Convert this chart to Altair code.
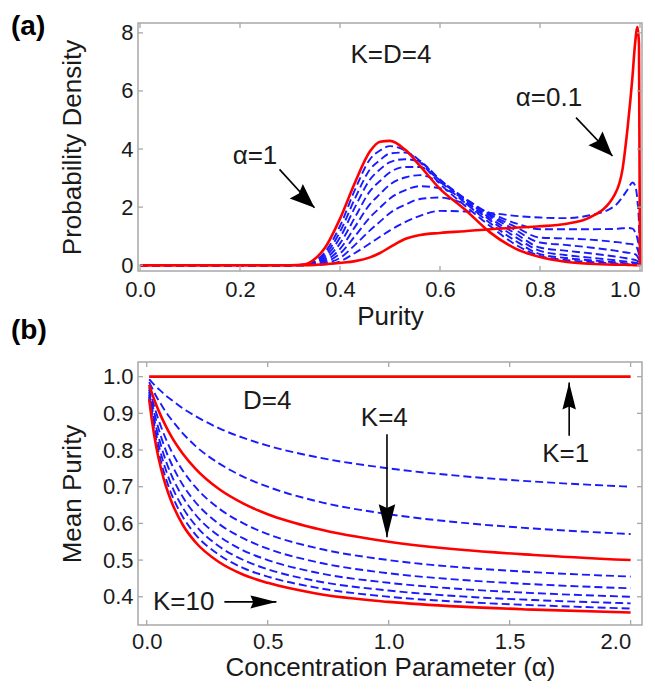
import altair as alt
import pandas as pd

# ---------------- panel (a): probability density of purity, K = D = 4 ----------------
PURITY = [0.0, 0.30, 0.33, 0.35, 0.37, 0.40, 0.43, 0.46, 0.48, 0.50, 0.53, 0.56,
          0.60, 0.65, 0.70, 0.75, 0.80, 0.85, 0.90, 0.95, 0.965, 0.975, 0.985,
          0.99, 0.995, 0.998, 1.0]
DENS_A10 = [0, 0, 0.03, 0.22, 0.6, 1.6, 2.85, 3.92, 4.25, 4.28, 3.98, 3.42,
            2.63, 1.92, 1.13, 0.58, 0.28, 0.12, 0.05, 0.02, 0.015, 0.01, 0.005,
            0.0, 0.0, 0.0, 0.0]
DENS_A09 = [0, 0, 0.02, 0.15, 0.45, 1.35, 2.6, 3.65, 3.95, 4.1, 3.95, 3.55,
            2.8, 2.05, 1.35, 0.72, 0.32, 0.18, 0.11, 0.06, 0.04, 0.03, 0.02,
            0.02, 0.01, 0.01, 0]
DENS_A08 = [0, 0, 0.02, 0.12, 0.36, 1.15, 2.3, 3.3, 3.62, 3.85, 3.88, 3.6,
            2.9, 2.15, 1.45, 0.85, 0.38, 0.25, 0.17, 0.1, 0.08, 0.06, 0.05,
            0.04, 0.03, 0.02, 0]
DENS_A07 = [0, 0, 0.01, 0.09, 0.28, 0.95, 2.0, 2.95, 3.3, 3.55, 3.65, 3.55,
            2.95, 2.22, 1.55, 0.98, 0.49, 0.35, 0.26, 0.17, 0.14, 0.12, 0.1,
            0.09, 0.07, 0.04, 0]
DENS_A06 = [0, 0, 0.01, 0.07, 0.21, 0.75, 1.65, 2.55, 2.9, 3.2, 3.38, 3.38,
            2.92, 2.28, 1.62, 1.1, 0.61, 0.5, 0.41, 0.3, 0.26, 0.23, 0.2,
            0.18, 0.14, 0.08, 0]
DENS_A05 = [0, 0, 0.01, 0.05, 0.15, 0.56, 1.32, 2.1, 2.45, 2.78, 3.02, 3.1,
            2.85, 2.3, 1.7, 1.22, 0.78, 0.7, 0.61, 0.5, 0.46, 0.43, 0.41,
            0.38, 0.3, 0.18, 0]
DENS_A04 = [0, 0, 0, 0.03, 0.1, 0.4, 1.0, 1.65, 1.98, 2.3, 2.58, 2.72,
            2.65, 2.28, 1.75, 1.33, 0.95, 0.92, 0.88, 0.8, 0.77, 0.74, 0.72,
            0.68, 0.55, 0.35, 0]
DENS_A03 = [0, 0, 0, 0.02, 0.06, 0.25, 0.7, 1.2, 1.5, 1.8, 2.08, 2.28,
            2.33, 2.12, 1.8, 1.45, 1.24, 1.24, 1.24, 1.25, 1.27, 1.28, 1.26,
            1.15, 0.9, 0.6, 0]
DENS_A02 = [0, 0, 0, 0.01, 0.03, 0.13, 0.42, 0.75, 0.98, 1.2, 1.48, 1.7,
            1.87, 1.85, 1.8, 1.7, 1.64, 1.62, 1.72, 2.05, 2.35, 2.6, 2.85,
            2.75, 2.2, 1.4, 0]
DENS_A01 = [0, 0, 0, 0.01, 0.03, 0.08, 0.14, 0.27, 0.42, 0.62, 0.9, 1.04,
            1.11, 1.17, 1.24, 1.29, 1.34, 1.42, 1.65, 2.45, 3.3, 4.7, 6.5,
            7.6, 8.2, 7.6, 0]

XA_TICKS = [0.0, 0.2, 0.4, 0.6, 0.8, 1.0]
YA_TICKS = [0, 2, 4, 6, 8]

# ---------------- panel (b): mean purity vs concentration parameter, D = 4 ----------------
CONC = [0.01, 0.02, 0.04, 0.06, 0.08, 0.1, 0.15, 0.2, 0.3, 0.4, 0.5, 0.7,
        1.0, 1.3, 1.6, 2.0]
MP_K1 = [1.0, 1.0, 1.0, 1.0, 1.0, 1.0, 1.0, 1.0, 1.0, 1.0, 1.0, 1.0,
         1.0, 1.0, 1.0, 1.0]
MP_K2 = [0.993, 0.986, 0.972, 0.960, 0.948, 0.938, 0.913, 0.893, 0.859, 0.833,
         0.812, 0.781, 0.750, 0.729, 0.714, 0.700]
MP_K3 = [0.985, 0.972, 0.946, 0.924, 0.903, 0.885, 0.845, 0.812, 0.763, 0.727,
         0.700, 0.661, 0.625, 0.602, 0.586, 0.571]
MP_K4 = [0.978, 0.958, 0.922, 0.891, 0.864, 0.839, 0.789, 0.750, 0.693, 0.654,
         0.625, 0.586, 0.550, 0.528, 0.514, 0.500]
MP_K5 = [0.971, 0.945, 0.900, 0.862, 0.829, 0.800, 0.743, 0.700, 0.640, 0.600,
         0.571, 0.533, 0.500, 0.480, 0.467, 0.455]
MP_K6 = [0.965, 0.933, 0.879, 0.835, 0.797, 0.766, 0.704, 0.659, 0.598, 0.559,
         0.531, 0.495, 0.464, 0.446, 0.434, 0.423]
MP_K7 = [0.958, 0.921, 0.859, 0.810, 0.769, 0.735, 0.671, 0.625, 0.565, 0.526,
         0.500, 0.466, 0.438, 0.421, 0.410, 0.400]
MP_K8 = [0.951, 0.909, 0.841, 0.787, 0.744, 0.708, 0.642, 0.596, 0.537, 0.500,
         0.475, 0.443, 0.417, 0.401, 0.391, 0.382]
MP_K9 = [0.945, 0.898, 0.824, 0.766, 0.721, 0.684, 0.617, 0.571, 0.514, 0.478,
         0.455, 0.425, 0.400, 0.386, 0.377, 0.368]
MP_K10 = [0.939, 0.888, 0.807, 0.747, 0.700, 0.663, 0.595, 0.550, 0.494, 0.460,
          0.438, 0.409, 0.386, 0.373, 0.365, 0.357]

XB_TICKS = [0.0, 0.5, 1.0, 1.5, 2.0]
YB_TICKS = [0.4, 0.5, 0.6, 0.7, 0.8, 0.9, 1.0]

# annotations (data coordinates)
TEXT_A = ["K=D=4", "α=1", "α=0.1"]
TEXT_A_X = [0.502, 0.23, 0.818]
TEXT_A_Y = [7.25, 3.75, 5.77]
ARROW_A_X = [0.279, 0.872]
ARROW_A_Y = [3.30, 5.08]
ARROW_A_X2 = [0.349, 0.945]
ARROW_A_Y2 = [1.98, 3.76]
ARROW_A_ANG = [132, 136]
ARROW_A_SIZE = [600, 600]

TEXT_B = ["D=4", "K=4", "K=1", "K=10"]
TEXT_B_X = [0.498, 0.982, 1.732, 0.153]
TEXT_B_Y = [0.934, 0.886, 0.789, 0.386]
ARROW_B_X = [0.993, 1.746, 0.321]
ARROW_B_Y = [0.843, 0.839, 0.386]
ARROW_B_X2 = [0.993, 1.746, 0.536]
ARROW_B_Y2 = [0.562, 0.984, 0.386]
ARROW_B_ANG = [180, 0, 90]
ARROW_B_SIZE = [1089, 729, 676]

FONT = "Liberation Sans"
RED = "#ff0000"
BLUE = "#1a1aff"
FRAME = "#a8a8a8"
INK = "#1a1a1a"
HEAD_WIDE = "M0,0L0.8,2L0,1.72L-0.8,2Z"
HEAD_NARROW = "M0,0L0.5,2L0,1.78L-0.5,2Z"


def long_df(xs, series):
    rows = []
    for name, ys in series.items():
        for x, y in zip(xs, ys):
            rows.append({"x": x, "y": y, "curve": name})
    return pd.DataFrame(rows)


def frame_ticks(xticks, yticks, xe, ye, W, H, L=5):
    dx = pd.DataFrame({"x": xticks})
    dy = pd.DataFrame({"y": yticks})
    kw = dict(color=FRAME, strokeWidth=1.3)
    bottom = alt.Chart(dx).mark_rule(**kw).encode(x=xe, y=alt.value(H), y2=alt.value(H - L))
    top = alt.Chart(dx).mark_rule(**kw).encode(x=xe, y=alt.value(0), y2=alt.value(L))
    left = alt.Chart(dy).mark_rule(**kw).encode(y=ye, x=alt.value(0), x2=alt.value(L))
    right = alt.Chart(dy).mark_rule(**kw).encode(y=ye, x=alt.value(W), x2=alt.value(W - L))
    return [bottom, top, left, right]


def annotations(texts, tx, ty, ax, ay, ax2, ay2, ang, size, xe, ye, fs, head_shape):
    dt = pd.DataFrame({"label": texts, "x": tx, "y": ty})
    da = pd.DataFrame({"x": ax, "y": ay, "x2": ax2, "y2": ay2})
    dh = pd.DataFrame({"x": ax2, "y": ay2, "ang": ang, "s": size})
    txt = alt.Chart(dt).mark_text(font=FONT, fontSize=fs, color=INK).encode(
        x=xe, y=ye, text="label:N",
    )
    shaft = alt.Chart(da).mark_rule(color="black", strokeWidth=1.6).encode(
        x=xe, y=ye, x2="x2:Q", y2="y2:Q",
    )
    head = alt.Chart(dh).mark_point(
        shape=head_shape, filled=True, fill="black", strokeWidth=0, opacity=1).encode(
        x=xe, y=ye,
        angle=alt.Angle("ang:Q", scale=None),
        size=alt.Size("s:Q", scale=None, legend=None),
    )
    return [txt, shaft, head]


def panel_label(text, yoff):
    d = pd.DataFrame({"label": [text]})
    return alt.Chart(d).mark_text(font=FONT, fontSize=28, fontWeight="bold",
                                  color="black", align="left", baseline="middle").encode(
        x=alt.value(-127), y=alt.value(yoff), text="label:N")


# the last x label is right-aligned so the page does not overflow
LAST_RIGHT_A = {"expr": "datum.value >= 0.999 ? 'right' : 'center'"}
LAST_RIGHT_B = {"expr": "datum.value >= 1.999 ? 'right' : 'center'"}

# ---------------- build panel (a) ----------------
WA, HA = 504, 248
xs_a = alt.Scale(domain=[-0.004, 1.004], nice=False, zero=False)
ys_a = alt.Scale(domain=[-0.2, 8.34], nice=False, zero=False)
ax_xa = alt.Axis(values=XA_TICKS, format=".1f", title="Purity", labelPadding=8,
                 titlePadding=3, labelFlush=False, labelOverlap=False,
                 labelAlign=LAST_RIGHT_A)
ax_ya = alt.Axis(values=YA_TICKS, format="d", title="Probability Density",
                 labelPadding=5, titlePadding=35, labelOverlap=False)
XE_A = alt.X("x:Q", scale=xs_a, axis=ax_xa)
YE_A = alt.Y("y:Q", scale=ys_a, axis=ax_ya)

blue_a = long_df(PURITY, {"0.9": DENS_A09, "0.8": DENS_A08, "0.7": DENS_A07,
                          "0.6": DENS_A06, "0.5": DENS_A05, "0.4": DENS_A04,
                          "0.3": DENS_A03, "0.2": DENS_A02})
red_a = long_df(PURITY, {"1": DENS_A10, "0.1": DENS_A01})

lines_blue_a = alt.Chart(blue_a).mark_line(color=BLUE, strokeWidth=1.9, strokeDash=[8, 4],
                                           interpolate="monotone").encode(
    x=XE_A, y=YE_A, detail="curve:N")
lines_red_a = alt.Chart(red_a).mark_line(color=RED, strokeWidth=2.6,
                                         interpolate="monotone").encode(
    x=XE_A, y=YE_A, detail="curve:N")

pa = alt.layer(
    lines_blue_a, lines_red_a,
    *frame_ticks(XA_TICKS, YA_TICKS, XE_A, YE_A, WA, HA),
    *annotations(TEXT_A, TEXT_A_X, TEXT_A_Y, ARROW_A_X, ARROW_A_Y, ARROW_A_X2,
                 ARROW_A_Y2, ARROW_A_ANG, ARROW_A_SIZE, XE_A, YE_A, 26, HEAD_WIDE),
    panel_label("(a)", 4),
).properties(width=WA, height=HA)

# ---------------- build panel (b) ----------------
WB, HB = 504, 263
xs_b = alt.Scale(domain=[-0.036, 2.047], nice=False, zero=False)
ys_b = alt.Scale(domain=[0.323, 1.040], nice=False, zero=False)
ax_xb = alt.Axis(values=XB_TICKS, format=".1f", title="Concentration Parameter (α)",
                 labelPadding=6, titlePadding=2, labelFlush=False, labelOverlap=False,
                 labelAlign=LAST_RIGHT_B)
ax_yb = alt.Axis(values=YB_TICKS, format=".1f", title="Mean Purity",
                 labelPadding=5, titlePadding=17, labelOverlap=False)
XE_B = alt.X("x:Q", scale=xs_b, axis=ax_xb)
YE_B = alt.Y("y:Q", scale=ys_b, axis=ax_yb)

blue_b = long_df(CONC, {"2": MP_K2, "3": MP_K3, "5": MP_K5, "6": MP_K6,
                        "7": MP_K7, "8": MP_K8, "9": MP_K9})
red_b = long_df(CONC, {"1": MP_K1, "4": MP_K4, "10": MP_K10})

lines_blue_b = alt.Chart(blue_b).mark_line(color=BLUE, strokeWidth=1.9, strokeDash=[8, 4],
                                           interpolate="monotone").encode(
    x=XE_B, y=YE_B, detail="curve:N")
lines_red_b = alt.Chart(red_b).mark_line(color=RED, strokeWidth=2.6,
                                         interpolate="monotone").encode(
    x=XE_B, y=YE_B, detail="curve:N")

pb = alt.layer(
    lines_blue_b, lines_red_b,
    *frame_ticks(XB_TICKS, YB_TICKS, XE_B, YE_B, WB, HB),
    *annotations(TEXT_B, TEXT_B_X, TEXT_B_Y, ARROW_B_X, ARROW_B_Y, ARROW_B_X2,
                 ARROW_B_Y2, ARROW_B_ANG, ARROW_B_SIZE, XE_B, YE_B, 26, HEAD_NARROW),
    panel_label("(b)", -31.5),
).properties(width=WB, height=HB)

chart = alt.vconcat(pa, pb, spacing=91, bounds="flush").properties(
    padding={"left": 2, "top": 4, "right": 0, "bottom": 0}
).configure_view(
    stroke=FRAME, strokeWidth=1.5
).configure_axis(
    grid=False, domain=False, ticks=False, tickSize=0,
    labelFont=FONT, labelFontSize=22, labelColor=INK,
    titleFont=FONT, titleFontSize=26, titleFontWeight="normal", titleColor=INK,
)

chart.save("out.html", embed_options={"renderer": "svg", "actions": False})
